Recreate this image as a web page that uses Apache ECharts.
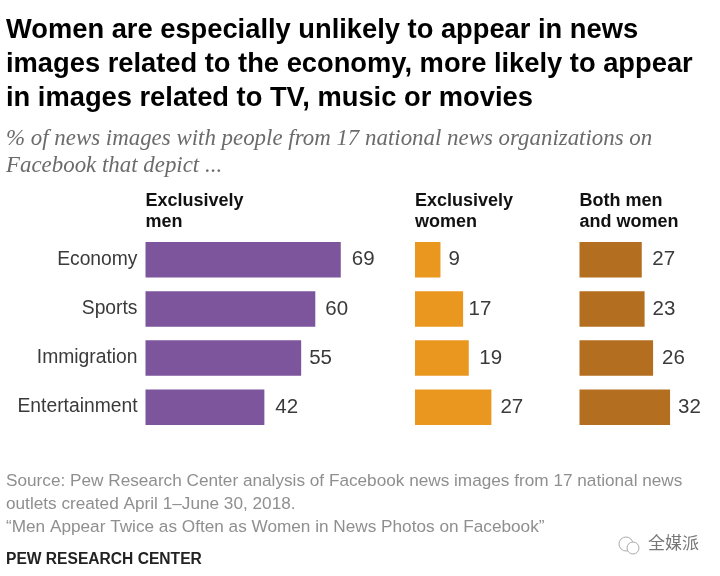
<!DOCTYPE html>
<html>
<head>
<meta charset="utf-8">
<style>html,body{margin:0;padding:0;background:#fff}#chart{width:720px;height:576px}</style>
<script src="https://cdn.jsdelivr.net/npm/echarts@6/dist/echarts.min.js"></script>
</head>
<body>
<div id="chart"></div>
<script>
var categories = ['Economy', 'Sports', 'Immigration', 'Entertainment'];
var menValues = [69, 60, 55, 42];
var womenValues = [9, 17, 19, 27];
// first brown bar is drawn shorter than its printed 27 in the original
var bothValues = [22, 23, 26, 32];
var bothLabels = [27, 23, 26, 32];
var titleLines = 'Women are especially unlikely to appear in news\nimages related to the economy, more likely to appear\nin images related to TV, music or movies';
var subtitleLines = '% of news images with people from 17 national news organizations on\nFacebook that depict ...';
var sourceLines = 'Source: Pew Research Center analysis of Facebook news images from 17 national news\noutlets created April 1\u2013June 30, 2018.\n\u201cMen Appear Twice as Often as Women in News Photos on Facebook\u201d';

var sans = '"Liberation Sans", Arial, sans-serif';
var pxPerUnit = 2.83;
var panels = [
  { left: 145.5, max: 80, name: 'Exclusively\nmen', data: menValues, labels: menValues, color: '#7c559c', showCats: true, gaps: [11, 10, 8, 11] },
  { left: 415, max: 40, name: 'Exclusively\nwomen', data: womenValues, labels: womenValues, color: '#e9971f', showCats: false, gaps: [8, 5.5, 10.5, 9] },
  { left: 579.5, max: 40, name: 'Both men\nand women', data: bothValues, labels: bothLabels, color: '#b46e1f', showCats: false, gaps: [10.5, 8, 9, 8] }
];

var grids = [], xAxes = [], yAxes = [], series = [], texts = [];
panels.forEach(function (p, i) {
  grids.push({ left: p.left, top: 235.2, width: p.max * pxPerUnit, height: 196.5, outerBoundsMode: 'none' });
  xAxes.push({ gridIndex: i, type: 'value', min: 0, max: p.max, show: false });
  yAxes.push({
    gridIndex: i, type: 'category', inverse: true, data: categories,
    axisLine: { show: false }, axisTick: { show: false },
    axisLabel: { show: p.showCats, color: '#3a3a3a', fontSize: 19.3, fontFamily: sans, margin: 8 }
  });
  series.push({
    type: 'bar', xAxisIndex: i, yAxisIndex: i, barWidth: 35.5, silent: true,
    itemStyle: { color: p.color },
    data: p.data.map(function (v, k) {
      return {
        value: v,
        label: {
          show: true, position: 'right', distance: p.gaps[k], formatter: String(p.labels[k]),
          color: '#3a3a3a', fontSize: 20.5, fontFamily: sans
        }
      };
    })
  });
  texts.push({
    type: 'text', left: p.left, top: 191,
    style: { text: p.name, fill: '#111', font: 'bold 18px ' + sans, lineHeight: 20.5 }
  });
});

texts.push({ type: 'text', left: 6, top: 13, style: { text: titleLines, fill: '#000', font: 'bold 27.3px ' + sans, lineHeight: 34 } });
texts.push({ type: 'text', left: 6, top: 125, style: { text: subtitleLines, fill: '#6b6b6b', font: 'italic 22.9px "Liberation Serif", serif', lineHeight: 27 } });
texts.push({ type: 'text', left: 6, top: 470, style: { text: sourceLines, fill: '#8f8f8f', font: '17.2px ' + sans, lineHeight: 23 } });
texts.push({ type: 'text', left: 6, top: 552, style: { text: 'PEW RESEARCH CENTER', fill: '#222', font: 'bold 15.6px ' + sans } });
// watermark in the bottom right corner
texts.push({ type: 'circle', shape: { cx: 626, cy: 544, r: 7 }, style: { fill: 'none', stroke: '#aaa', lineWidth: 1 } });
texts.push({ type: 'circle', shape: { cx: 633, cy: 548, r: 6 }, style: { fill: '#fff', stroke: '#aaa', lineWidth: 1 } });
texts.push({ type: 'text', left: 648, top: 534, style: { text: '\u5168\u5a92\u6d3e', fill: '#777', font: '17px "Noto Sans CJK SC", sans-serif' } });

var chart = echarts.init(document.getElementById('chart'), null, { renderer: 'canvas' });
chart.setOption({
  animation: false,
  backgroundColor: '#fff',
  grid: grids, xAxis: xAxes, yAxis: yAxes, series: series,
  graphic: texts
});
</script>
</body>
</html>
